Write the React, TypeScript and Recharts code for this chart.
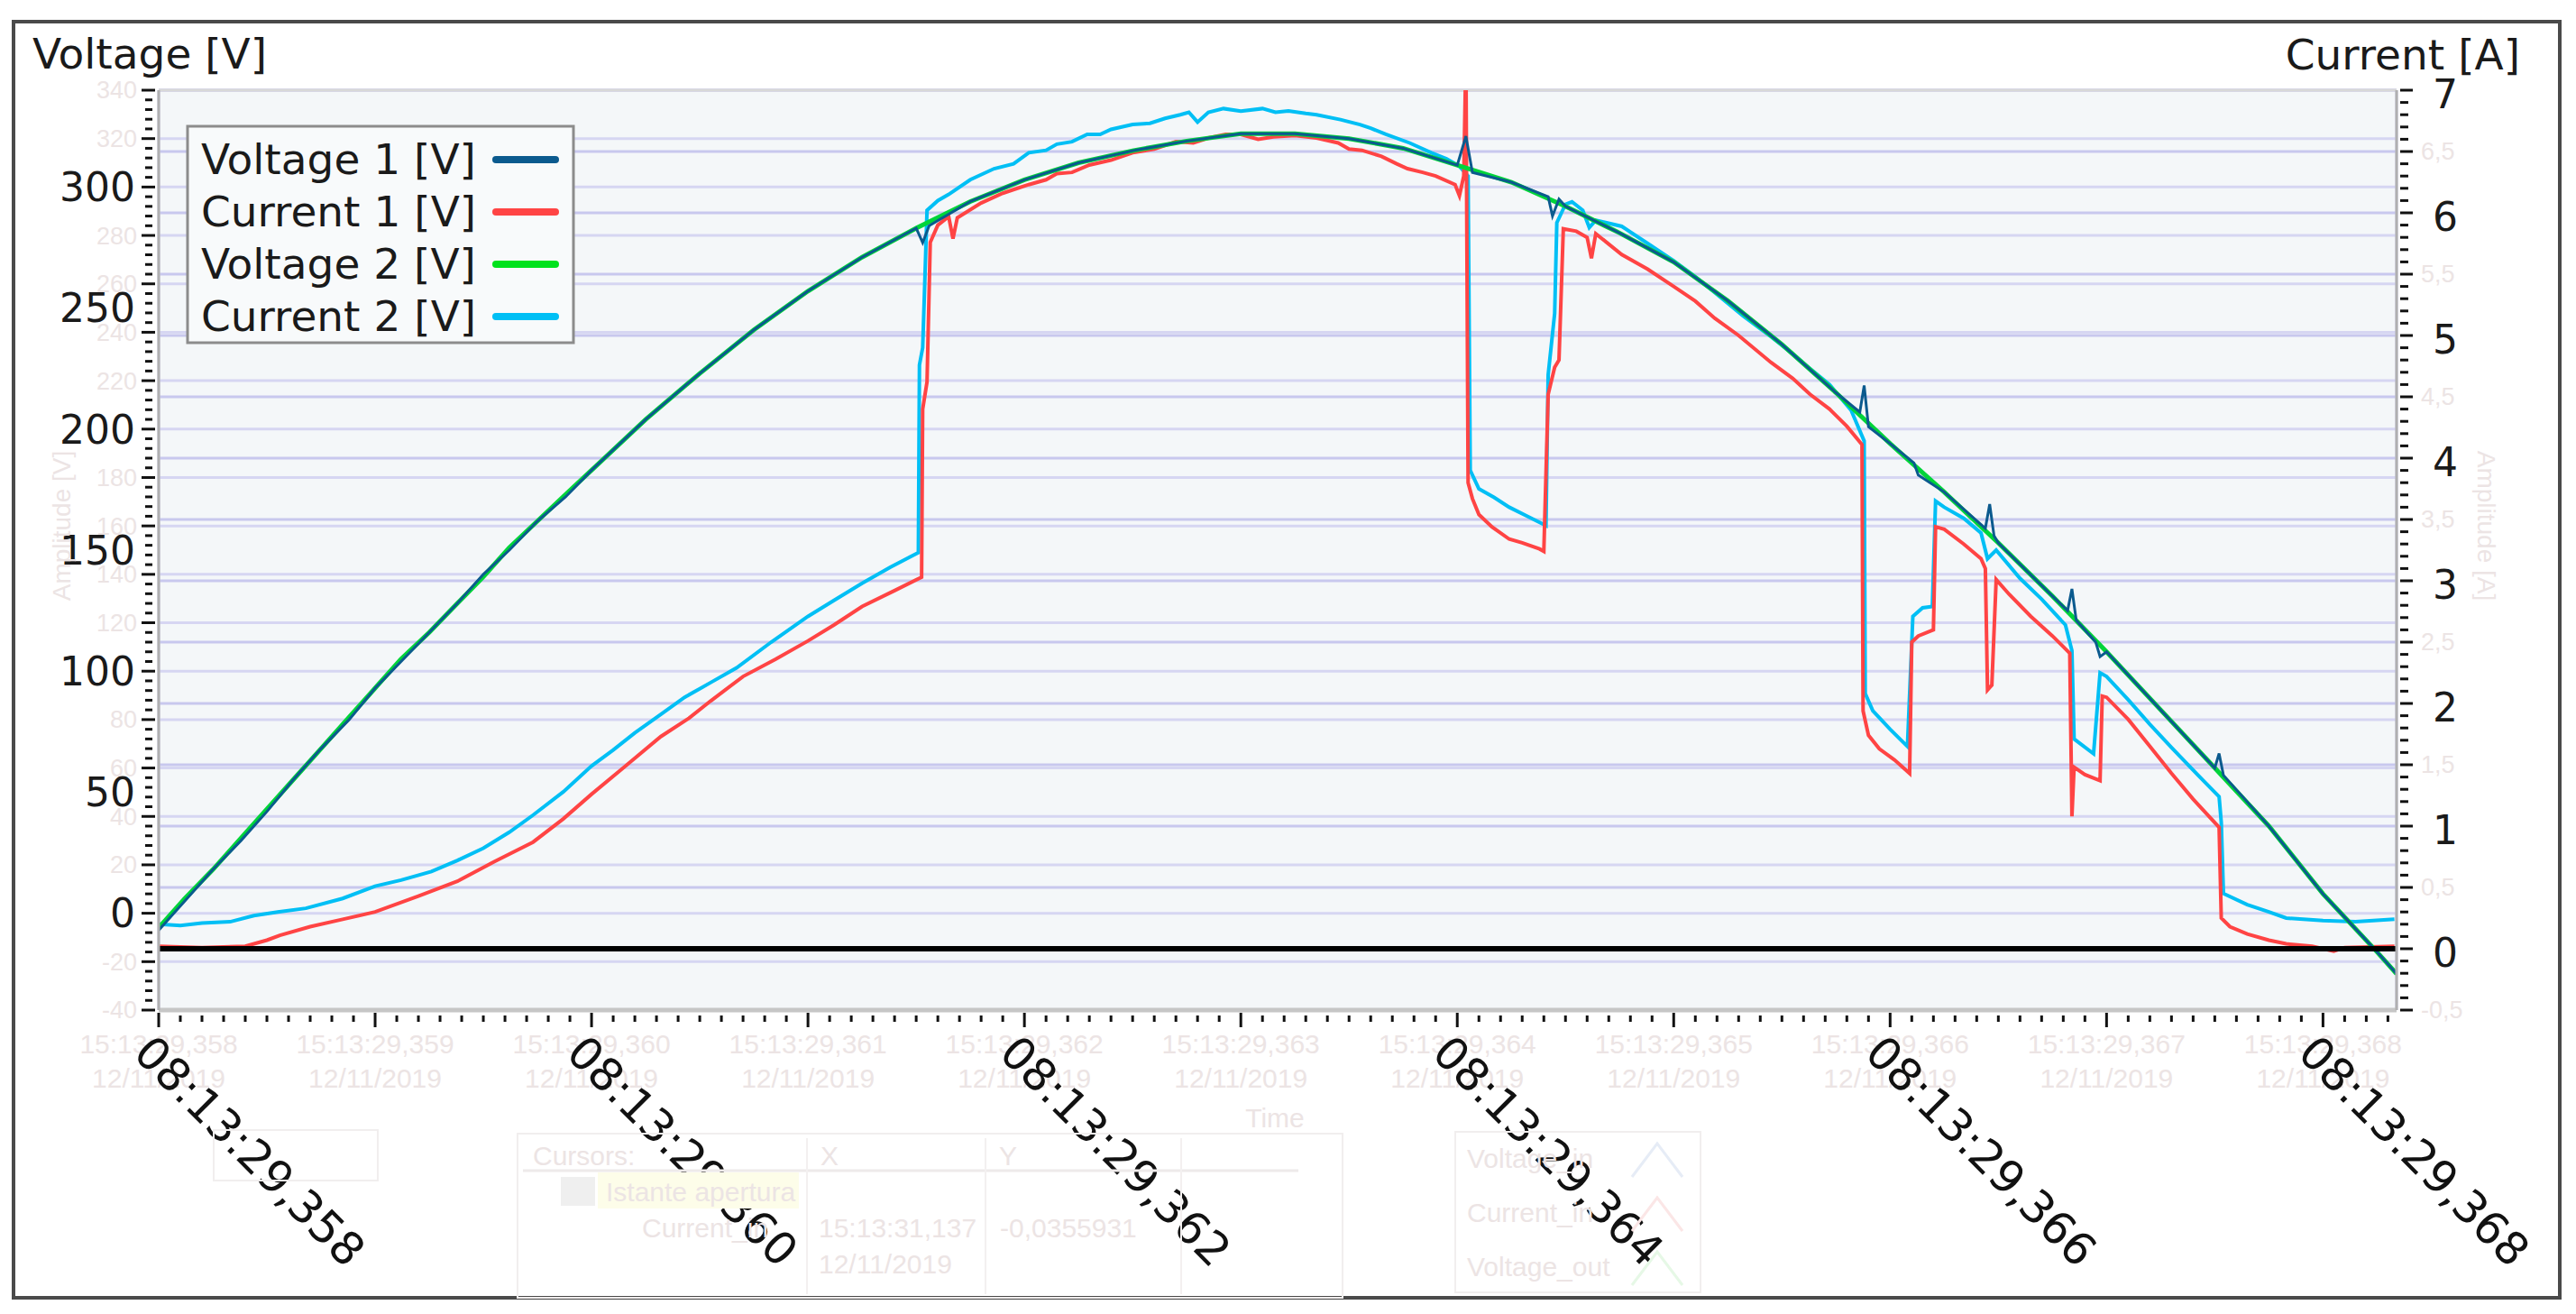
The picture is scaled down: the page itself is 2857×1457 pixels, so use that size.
import React from 'react';
import { LineChart, Line, XAxis, YAxis, CartesianGrid, ReferenceLine } from 'recharts';

// ---- data (time in ms after 08:13:29) ----
const voltage1: [number, number][] = [
  [358.0, -7], [358.12, 5], [358.25, 18], [358.38, 30], [358.5, 42], [358.62, 55], [358.75, 68], [358.88, 80],
  [359.0, 93], [359.12, 104], [359.25, 116], [359.38, 128], [359.5, 140], [359.62, 150], [359.75, 162], [359.88, 172],
  [360.0, 183], [360.25, 204], [360.5, 223], [360.75, 241], [361.0, 257], [361.25, 271], [361.5, 283], [361.53, 277],
  [361.56, 284], [361.75, 294], [362.0, 303], [362.25, 310], [362.5, 315], [362.75, 319], [363.0, 322], [363.25, 322],
  [363.5, 320], [363.75, 316], [364.0, 309], [364.04, 321], [364.07, 306], [364.25, 302], [364.42, 296], [364.44, 288],
  [364.47, 295], [364.5, 292], [364.75, 281], [365.0, 269], [365.25, 253], [365.5, 235], [365.75, 215], [365.86, 207],
  [365.88, 218], [365.9, 201], [366.0, 194], [366.11, 186], [366.13, 181], [366.25, 174], [366.44, 159], [366.46, 169],
  [366.48, 156], [366.5, 153], [366.75, 131], [366.82, 125], [366.84, 134], [366.86, 121], [366.95, 112], [366.97, 106],
  [367.0, 108], [367.25, 84], [367.5, 60], [367.52, 66], [367.54, 57], [367.75, 36], [368.0, 8], [368.25, -16], [368.34, -25],
];

const voltage2: [number, number][] = [
  [358.0, -6], [358.12, 6], [358.25, 18], [358.38, 31], [358.5, 43], [358.62, 55], [358.75, 68], [358.88, 81],
  [359.0, 93], [359.12, 105], [359.25, 116], [359.38, 128], [359.5, 139], [359.62, 151], [359.75, 162], [359.88, 173],
  [360.0, 183], [360.25, 204], [360.5, 223], [360.75, 241], [361.0, 257], [361.25, 271], [361.5, 283], [361.75, 294],
  [362.0, 303], [362.25, 310], [362.5, 315], [362.75, 319], [363.0, 322], [363.25, 322], [363.5, 320], [363.75, 316],
  [364.0, 309], [364.25, 302], [364.5, 292], [364.75, 281], [365.0, 269], [365.25, 253], [365.5, 235], [365.75, 215],
  [366.0, 194], [366.25, 174], [366.5, 153], [366.75, 131], [367.0, 108], [367.25, 84], [367.5, 60], [367.75, 36],
  [368.0, 8], [368.25, -16], [368.34, -25],
];

const current1: [number, number][] = [
  [358.0, 0.02], [358.2, 0.01], [358.4, 0.02], [358.5, 0.07], [358.56, 0.11], [358.7, 0.18], [358.85, 0.24], [359.0, 0.3],
  [359.2, 0.43], [359.38, 0.55], [359.55, 0.71], [359.73, 0.87], [359.87, 1.06], [360.0, 1.26], [360.15, 1.48], [360.32, 1.73],
  [360.45, 1.88], [360.55, 2.02], [360.7, 2.22], [360.85, 2.36], [361.0, 2.51], [361.12, 2.64], [361.25, 2.79], [361.4, 2.92],
  [361.525, 3.03], [361.53, 4.4], [361.55, 4.62], [361.565, 5.76], [361.6, 5.9], [361.65, 5.97], [361.67, 5.79], [361.69, 5.96],
  [361.8, 6.08], [361.9, 6.16], [362.02, 6.23], [362.1, 6.27], [362.15, 6.32], [362.22, 6.33], [362.3, 6.39], [362.4, 6.43],
  [362.5, 6.49], [362.6, 6.52], [362.7, 6.58], [362.78, 6.57], [362.85, 6.61], [362.93, 6.64], [363.0, 6.64], [363.08, 6.6],
  [363.15, 6.62], [363.25, 6.63], [363.35, 6.61], [363.45, 6.57], [363.5, 6.52], [363.56, 6.51], [363.65, 6.46], [363.72, 6.4],
  [363.77, 6.36], [363.84, 6.33], [363.9, 6.3], [363.99, 6.23], [364.01, 6.14], [364.03, 6.3], [364.04, 7.3], [364.05, 3.8],
  [364.07, 3.67], [364.1, 3.54], [364.16, 3.44], [364.24, 3.34], [364.3, 3.31], [364.38, 3.26], [364.4, 3.24], [364.42, 4.52],
  [364.45, 4.74], [364.47, 4.8], [364.49, 5.87], [364.55, 5.85], [364.6, 5.8], [364.62, 5.63], [364.64, 5.83], [364.76, 5.66],
  [364.88, 5.54], [365.0, 5.4], [365.1, 5.28], [365.19, 5.14], [365.3, 5.0], [365.45, 4.78], [365.55, 4.65], [365.63, 4.52],
  [365.72, 4.4], [365.8, 4.26], [365.87, 4.11], [365.875, 1.94], [365.9, 1.74], [365.95, 1.63], [366.02, 1.54], [366.09, 1.43],
  [366.1, 2.5], [366.13, 2.55], [366.2, 2.6], [366.21, 3.44], [366.25, 3.42], [366.34, 3.3], [366.42, 3.18], [366.44, 3.1],
  [366.45, 2.11], [366.47, 2.15], [366.49, 3.01], [366.55, 2.89], [366.65, 2.71], [366.75, 2.55], [366.83, 2.41], [366.84, 1.08],
  [366.85, 1.48], [366.9, 1.42], [366.97, 1.37], [366.98, 2.06], [367.0, 2.05], [367.1, 1.87], [367.2, 1.65], [367.3, 1.43],
  [367.4, 1.22], [367.52, 0.99], [367.53, 0.25], [367.57, 0.18], [367.65, 0.12], [367.75, 0.07], [367.83, 0.04], [367.95, 0.02],
  [368.05, -0.02], [368.1, 0.01], [368.33, 0.02],
];

const current2: [number, number][] = [
  [358.0, 0.2], [358.1, 0.19], [358.2, 0.21], [358.33, 0.22], [358.44, 0.27], [358.55, 0.3], [358.68, 0.33], [358.85, 0.41],
  [359.0, 0.51], [359.12, 0.56], [359.26, 0.63], [359.38, 0.72], [359.5, 0.82], [359.62, 0.95], [359.73, 1.09], [359.87, 1.28],
  [360.0, 1.49], [360.1, 1.62], [360.2, 1.76], [360.32, 1.91], [360.43, 2.05], [360.55, 2.17], [360.67, 2.29], [360.83, 2.5],
  [361.0, 2.71], [361.12, 2.84], [361.25, 2.98], [361.38, 3.11], [361.51, 3.23], [361.515, 4.76], [361.53, 4.9], [361.54, 5.45],
  [361.55, 6.02], [361.6, 6.1], [361.65, 6.15], [361.75, 6.27], [361.86, 6.36], [361.95, 6.4], [362.02, 6.49], [362.1, 6.51],
  [362.15, 6.56], [362.22, 6.58], [362.29, 6.64], [362.35, 6.64], [362.4, 6.68], [362.5, 6.72], [362.58, 6.73], [362.65, 6.77],
  [362.72, 6.8], [362.76, 6.82], [362.8, 6.74], [362.85, 6.82], [362.92, 6.85], [363.0, 6.83], [363.1, 6.85], [363.16, 6.82],
  [363.22, 6.83], [363.3, 6.81], [363.35, 6.8], [363.46, 6.76], [363.55, 6.72], [363.6, 6.69], [363.67, 6.64], [363.78, 6.57],
  [363.88, 6.49], [363.95, 6.44], [364.01, 6.38], [364.05, 6.3], [364.06, 3.9], [364.1, 3.75], [364.17, 3.68], [364.24, 3.6],
  [364.32, 3.53], [364.41, 3.45], [364.42, 4.68], [364.45, 5.18], [364.46, 5.92], [364.5, 6.07], [364.53, 6.09], [364.58, 6.02],
  [364.61, 5.88], [364.64, 5.94], [364.76, 5.89], [364.88, 5.75], [365.0, 5.61], [365.1, 5.48], [365.19, 5.35], [365.32, 5.16],
  [365.45, 4.99], [365.55, 4.85], [365.63, 4.73], [365.72, 4.6], [365.82, 4.39], [365.88, 4.14], [365.885, 2.08], [365.92, 1.94],
  [366.0, 1.79], [366.08, 1.65], [366.105, 2.71], [366.15, 2.78], [366.195, 2.79], [366.21, 3.65], [366.25, 3.6], [366.34, 3.51],
  [366.42, 3.39], [366.45, 3.18], [366.49, 3.25], [366.6, 3.02], [366.7, 2.85], [366.81, 2.64], [366.84, 2.43], [366.85, 1.71],
  [366.94, 1.59], [366.97, 2.25], [367.0, 2.22], [367.1, 2.03], [367.2, 1.83], [367.3, 1.64], [367.42, 1.42], [367.52, 1.24],
  [367.53, 1.03], [367.54, 0.45], [367.65, 0.36], [367.75, 0.3], [367.83, 0.25], [368.0, 0.23], [368.15, 0.22], [368.33, 0.24],
];

// ---- axes ----
const timeDomain = [358, 368.34];
const bigTimeTicks = [358, 360, 362, 364, 366, 368];
const bigTimeLabels = ['08:13:29,358', '08:13:29,360', '08:13:29,362', '08:13:29,364', '08:13:29,366', '08:13:29,368'];
const msGrid = [359, 360, 361, 362, 363, 364, 365, 366, 367, 368];
const voltGrid = [-20, 0, 20, 40, 60, 80, 100, 120, 140, 160, 180, 200, 220, 240, 260, 280, 300, 320];
const ampGrid = [0.5, 1, 1.5, 2, 2.5, 3, 3.5, 4, 4.5, 5, 5.5, 6, 6.5];
const bigVoltLabels = [0, 50, 100, 150, 200, 250, 300];
const bigAmpLabels = [0, 1, 2, 3, 4, 5, 6, 7];

const legendItems = [
  { name: 'Voltage 1 [V]', color: '#0b5a8e' },
  { name: 'Current 1 [V]', color: '#ff4444' },
  { name: 'Voltage 2 [V]', color: '#00e21c' },
  { name: 'Current 2 [V]', color: '#00bff5' },
];

const r1 = (v: number) => Math.round(v * 10) / 10;
const timeTicks: number[] = [];
for (let i = 0; i <= 103; i++) timeTicks.push(r1(358 + i / 10));
const voltTicks: number[] = [];
for (let v = -40; v <= 340; v += 4) voltTicks.push(v);
[50, 150, 250].forEach((v) => voltTicks.push(v));
voltTicks.sort((a, b) => a - b);
const ampTicks: number[] = [];
for (let i = -5; i <= 70; i++) ampTicks.push(i / 10);

const FAINT = '#ece4e4';
const MAIN_FONT = 'DejaVu Sans, Verdana, sans-serif';
const SMALL_FONT = 'Liberation Sans, Arial, sans-serif';

const rows = (pts: [number, number][]) => pts.map(([t, v]) => ({ t, v }));

const TimeTick = (p: any) => {
  const { x, y, payload } = p;
  const tenth = Math.round(payload.value * 10);
  const major = tenth % 10 === 0;
  const ms = tenth / 10;
  const bigIdx = major ? bigTimeTicks.indexOf(ms) : -1;
  return (
    <g>
      <line x1={x} x2={x} y1={y + (major ? 3 : 6)} y2={y + (major ? 19 : 13)} stroke="#111" strokeWidth={3} />
      {major && (
        <g fontFamily={SMALL_FONT} fontSize={30} fill={FAINT} textAnchor="middle">
          <text x={x} y={y + 48}>{`15:13:29,${ms}`}</text>
          <text x={x} y={y + 86}>12/11/2019</text>
        </g>
      )}
      {bigIdx >= 0 && (
        <text
          x={x - 30}
          y={y + 50}
          transform={`rotate(45 ${x - 30} ${y + 50})`}
          fontFamily={MAIN_FONT}
          fontSize={50}
          fill="#111"
        >
          {bigTimeLabels[bigIdx]}
        </text>
      )}
    </g>
  );
};

const VoltTick = (p: any) => {
  const { x, y, payload } = p;
  const v = Math.round(payload.value);
  const minor = v % 4 === 0;
  const major = v % 20 === 0;
  const big = bigVoltLabels.includes(v);
  return (
    <g>
      {minor && (
        <line x1={x - (major ? 19 : 15)} x2={x - (major ? 4 : 7)} y1={y} y2={y} stroke="#111" strokeWidth={3} />
      )}
      {major && !big && (
        <text x={x - 24} y={y} dy="0.35em" textAnchor="end" fontFamily={SMALL_FONT} fontSize={27} fill={FAINT}>
          {v}
        </text>
      )}
      {big && (
        <text x={x - 26} y={y} dy="0.36em" textAnchor="end" fontFamily={MAIN_FONT} fontSize={44} fill="#1a1a1a">
          {v}
        </text>
      )}
    </g>
  );
};

const AmpTick = (p: any) => {
  const { x, y, payload } = p;
  const tenth = Math.round(payload.value * 10);
  const major = tenth % 5 === 0;
  const big = tenth % 10 === 0 && bigAmpLabels.includes(tenth / 10);
  return (
    <g>
      <line x1={x + 4} x2={x + (major ? 18 : 13)} y1={y} y2={y} stroke="#111" strokeWidth={3} />
      {major && !big && (
        <text x={x + 27} y={y} dy="0.35em" fontFamily={SMALL_FONT} fontSize={27} fill={FAINT}>
          {String(tenth / 10).replace('.', ',')}
        </text>
      )}
      {big && (
        <text x={x + 40} y={y + 4} dy="0.36em" fontFamily={MAIN_FONT} fontSize={44} fill="#1a1a1a">
          {tenth / 10}
        </text>
      )}
    </g>
  );
};

const Overlay = () => (
  <svg width={2857} height={1457} style={{ position: 'absolute', left: 0, top: 0, pointerEvents: 'none' }}>
    <rect x={15} y={24} width={2824} height={1415} fill="none" stroke="#4a4a4a" strokeWidth={4} />
    <text x={36} y={76} fontFamily={MAIN_FONT} fontSize={47} fill="#1a1a1a">Voltage [V]</text>
    <text x={2795} y={77} textAnchor="end" fontFamily={MAIN_FONT} fontSize={47} fill="#1a1a1a">Current [A]</text>

    {/* faint remnants of the underlying screenshot */}
    <g fontFamily={SMALL_FONT} fill={FAINT} fontSize={28}>
      <text transform="translate(78 583) rotate(-90)" textAnchor="middle">Amplitude [V]</text>
      <text transform="translate(2748 583) rotate(90)" textAnchor="middle">Amplitude [A]</text>
      <text x={1414} y={1250} textAnchor="middle" fontSize={30}>Time</text>
      <rect x={237} y={1253} width={182} height={56} fill="none" stroke="#f1eeee" strokeWidth={2} />
      <rect x={574} y={1257} width={915} height={182} fill="none" stroke="#f1eeee" strokeWidth={2} />
      <line x1={580} x2={1440} y1={1298} y2={1298} stroke="#eeeaea" strokeWidth={3} />
      <line x1={895} x2={895} y1={1262} y2={1435} stroke="#f3f0f0" strokeWidth={2} />
      <line x1={1093} x2={1093} y1={1262} y2={1435} stroke="#f3f0f0" strokeWidth={2} />
      <line x1={1310} x2={1310} y1={1262} y2={1435} stroke="#f3f0f0" strokeWidth={2} />
      <text x={591} y={1292} fontSize={30}>Cursors:</text>
      <text x={910} y={1292} fontSize={30}>X</text>
      <text x={1108} y={1292} fontSize={30}>Y</text>
      <rect x={622} y={1305} width={38} height={32} fill="#efefef" />
      <rect x={663} y={1300} width={223} height={40} fill="#fdfde9" />
      <text x={672} y={1332} fontSize={30}>Istante apertura</text>
      <text x={712} y={1372} fontSize={30}>Current_in</text>
      <text x={908} y={1372} fontSize={30}>15:13:31,137</text>
      <text x={908} y={1412} fontSize={30}>12/11/2019</text>
      <text x={1109} y={1372} fontSize={30}>-0,0355931</text>
      <rect x={1614} y={1255} width={272} height={178} fill="none" stroke="#f1eeee" strokeWidth={2} />
      <text x={1627} y={1295} fontSize={30}>Voltage_in</text>
      <text x={1627} y={1355} fontSize={30}>Current_in</text>
      <text x={1627} y={1415} fontSize={30}>Voltage_out</text>
      <polyline points="1810,1305 1838,1268 1866,1305" fill="none" stroke="#e6ecf6" strokeWidth={3} />
      <polyline points="1810,1365 1838,1328 1866,1365" fill="none" stroke="#fbe6e6" strokeWidth={3} />
      <polyline points="1810,1425 1838,1388 1866,1425" fill="none" stroke="#e6f8e6" strokeWidth={3} />
    </g>

    {/* legend */}
    <rect x={208} y={140} width={428} height={240} fill="#f8fafb" stroke="#8c8c8c" strokeWidth={3} />
    {legendItems.map((it, i) => (
      <g key={it.name}>
        <text x={223} y={193 + i * 58} fontFamily={MAIN_FONT} fontSize={47} fill="#1a1a1a">{it.name}</text>
        <line
          x1={550}
          x2={616}
          y1={177 + i * 58}
          y2={177 + i * 58}
          stroke={it.color}
          strokeWidth={8}
          strokeLinecap="round"
        />
      </g>
    ))}
  </svg>
);

export default function App() {
  return (
    <div style={{ position: 'absolute', left: 0, top: 0, width: 2857, height: 1457, background: '#fff' }}>
      <LineChart width={2857} height={1457} margin={{ top: 100, right: 0, bottom: 0, left: 0 }}>
        {/* hidden axes that only carry the grid positions */}
        <XAxis xAxisId="tg" type="number" domain={timeDomain} allowDataOverflow ticks={msGrid} interval={0} height={0} hide />
        <YAxis yAxisId="vg" type="number" domain={[-40, 340]} allowDataOverflow ticks={voltGrid} interval={0} width={0} hide />
        <YAxis yAxisId="ag" type="number" domain={[-0.5, 7]} allowDataOverflow ticks={ampGrid} interval={0} width={0} hide />
        <CartesianGrid xAxisId="tg" yAxisId="vg" vertical={false} fill="#f4f7f9" stroke="#d6d6f2" strokeWidth={3} />
        <CartesianGrid xAxisId="tg" yAxisId="ag" vertical={false} stroke="#c8c8ee" strokeWidth={3} />
        <CartesianGrid xAxisId="tg" yAxisId="vg" horizontal={false} stroke="#d0d0f0" strokeWidth={3} />
        <XAxis
          dataKey="t"
          type="number"
          domain={timeDomain}
          allowDataOverflow
          ticks={timeTicks}
          interval={0}
          height={337}
          tickSize={0}
          tickMargin={0}
          tickLine={false}
          axisLine={{ stroke: '#c6c6c6', strokeWidth: 5 }}
          tick={(p: any) => <TimeTick {...p} />}
        />
        <YAxis
          yAxisId="v"
          orientation="left"
          type="number"
          domain={[-40, 340]}
          allowDataOverflow
          ticks={voltTicks}
          interval={0}
          width={176}
          tickSize={0}
          tickMargin={0}
          tickLine={false}
          axisLine={{ stroke: '#b0b0b0', strokeWidth: 3 }}
          tick={(p: any) => <VoltTick {...p} />}
        />
        <YAxis
          yAxisId="a"
          orientation="right"
          type="number"
          domain={[-0.5, 7]}
          allowDataOverflow
          ticks={ampTicks}
          interval={0}
          width={199}
          tickSize={0}
          tickMargin={0}
          tickLine={false}
          axisLine={{ stroke: '#b0b0b0', strokeWidth: 3 }}
          tick={(p: any) => <AmpTick {...p} />}
        />
        <ReferenceLine yAxisId="v" y={340} stroke="#d8d8d8" strokeWidth={3} />
        <Line
          data={rows(current2)}
          dataKey="v"
          yAxisId="a"
          type="linear"
          stroke="#00bff5"
          strokeWidth={4}
          dot={false}
          isAnimationActive={false}
        />
        <Line
          data={rows(current1)}
          dataKey="v"
          yAxisId="a"
          type="linear"
          stroke="#ff4444"
          strokeWidth={4}
          dot={false}
          isAnimationActive={false}
        />
        <Line
          data={rows(voltage2)}
          dataKey="v"
          yAxisId="v"
          type="linear"
          stroke="#00d43a"
          strokeWidth={5}
          dot={false}
          isAnimationActive={false}
        />
        <Line
          data={rows(voltage1)}
          dataKey="v"
          yAxisId="v"
          type="linear"
          stroke="#0b5a8e"
          strokeWidth={3}
          dot={false}
          isAnimationActive={false}
        />
        <ReferenceLine yAxisId="a" y={0} stroke="#000" strokeWidth={6} />
      </LineChart>
      <Overlay />
    </div>
  );
}
